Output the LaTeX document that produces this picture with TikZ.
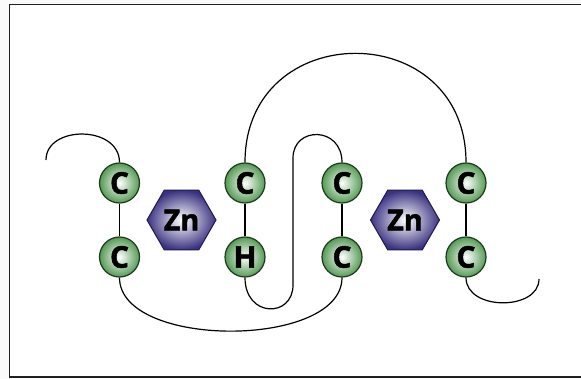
\documentclass[tikz,border=0pt]{standalone}
\usepackage{fontspec}
\setmainfont{Open Sans}
\newfontfamily\atomfont{Open Sans Bold}[FakeBold=1.6]
\usetikzlibrary{shapes.geometric}
\definecolor{ballgreen}{HTML}{559A55}
\definecolor{ballline}{HTML}{1E3A1E}
\definecolor{hexpurple}{HTML}{3A3380}
\definecolor{hexline}{HTML}{1E1A50}
\definecolor{framecol}{HTML}{202020}
\tikzset{
  atom/.style={circle, minimum size=40pt, inner sep=0pt, draw=ballline, line width=1.2pt,
    inner color=white, outer color=ballgreen,
    font=\atomfont\fontsize{30pt}{30pt}\selectfont, text=black},
  zinc/.style={regular polygon, regular polygon sides=6, minimum size=69pt, inner sep=0pt,
    draw=hexline, line width=1pt, inner color=white, outer color=hexpurple,
    font=\atomfont\fontsize{29pt}{29pt}\selectfont, text=black},
  chain/.style={line width=1.2pt, draw=black},
}
\begin{document}
\begin{tikzpicture}[x=1pt,y=-1pt]
\useasboundingbox (0,0) rectangle (581,379);
\fill[white!98!black] (0,0) rectangle (581,379);
\fill[white] (10,5) rectangle (581,377);
\draw[framecol, line width=1.8pt] (581,4.5) -- (9.5,4.5) -- (9.5,377) -- (581,377);

\coordinate (tailA) at (46,160);
\coordinate (tailB) at (539,279);
\coordinate (hairpin) at (293,285);
\coordinate (hairtop) at (293,158);

\node[atom] (c1) at (119.5,183) {C};
\node[atom] (c2) at (119.5,257) {C};
\node[atom] (c3) at (245,183) {C};
\node[atom] (h1) at (245,257) {H};
\node[atom] (c5) at (342,183) {C};
\node[atom] (c6) at (342,257) {C};
\node[atom] (c7) at (466,183) {C};
\node[atom] (c8) at (466,257) {C};
\node[zinc] (zn1) at (181.5,220) {Zn};
\node[zinc] (zn2) at (405,220) {Zn};

\draw[chain] (tailA) .. controls (46,125) and (119.5,125) .. (c1.north);
\draw[chain] (c1.south) -- (c2.north);
\draw[chain] (c2.south) .. controls (119.5,349) and (342,349) .. (c6.south);
\draw[chain] (c3.south) -- (h1.north);
\draw[chain] (c3.north) .. controls (245,17) and (466,17) .. (c7.north);
\draw[chain] (h1.south) .. controls (245,318) and (293,318) .. (hairpin)
   -- (hairtop) .. controls (293,126) and (342,126) .. (c5.north);
\draw[chain] (c5.south) -- (c6.north);
\draw[chain] (c7.south) -- (c8.north);
\draw[chain] (c8.south) .. controls (466,311) and (539,311) .. (tailB);
\end{tikzpicture}
\end{document}
